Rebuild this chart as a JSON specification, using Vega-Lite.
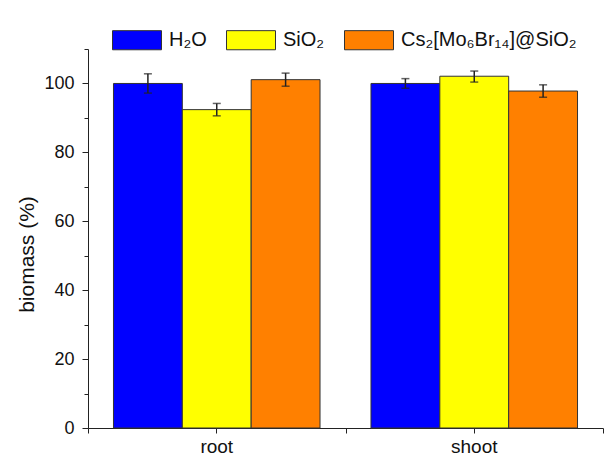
{
  "$schema": "https://vega.github.io/schema/vega-lite/v6.json",
  "width": 515,
  "height": 379,
  "autosize": {"type": "none"},
  "padding": {"left": 88, "top": 49, "right": 2, "bottom": 33},
  "background": "white",
  "config": {
    "view": {"stroke": null},
    "font": "Liberation Sans",
    "axis": {"grid": false, "domainColor": "#222", "tickColor": "#222", "labelColor": "#111", "titleColor": "#111", "labelFont": "Liberation Sans", "titleFont": "Liberation Sans", "titleFontWeight": "normal"}
  },
  "data": {
    "values": [
      {"tissue": "root", "treatment": "H₂O", "biomass": 100.0, "lo": 97.2, "hi": 102.8},
      {"tissue": "root", "treatment": "SiO₂", "biomass": 92.4, "lo": 90.6, "hi": 94.2},
      {"tissue": "root", "treatment": "Cs₂[Mo₆Br₁₄]@SiO₂", "biomass": 101.1, "lo": 99.2, "hi": 103.0},
      {"tissue": "shoot", "treatment": "H₂O", "biomass": 100.0, "lo": 98.6, "hi": 101.4},
      {"tissue": "shoot", "treatment": "SiO₂", "biomass": 102.1, "lo": 100.4, "hi": 103.6},
      {"tissue": "shoot", "treatment": "Cs₂[Mo₆Br₁₄]@SiO₂", "biomass": 97.8, "lo": 96.0, "hi": 99.6}
    ]
  },
  "encoding": {
    "xOffset": {"field": "treatment", "type": "nominal", "sort": ["H₂O", "SiO₂", "Cs₂[Mo₆Br₁₄]@SiO₂"], "scale": {"paddingInner": 0, "paddingOuter": 0.37}}
  },
  "layer": [
    {
      "mark": {"type": "bar", "stroke": "#333", "strokeWidth": 1},
      "encoding": {
        "x": {"field": "tissue", "type": "nominal", "sort": ["root", "shoot"], "scale": {"paddingInner": 0, "paddingOuter": 0},
              "axis": {"orient": "bottom", "title": null, "labels": false, "tickBand": "extent", "tickSize": 5, "domainWidth": 1}},
        "y": {"field": "biomass", "type": "quantitative", "scale": {"domain": [0, 110], "nice": false},
              "axis": {"title": "biomass (%)", "titleFontSize": 21, "titlePadding": 6, "titleY": 205, "labelFontSize": 18, "labelPadding": 8,
                       "values": [0, 10, 20, 30, 40, 50, 60, 70, 80, 90, 100, 110],
                       "labelExpr": "datum.value % 20 === 0 ? datum.label : ''",
                       "tickSize": {"condition": {"test": "datum.value % 20 === 0", "value": 6}, "value": 4}}},
        "color": {"field": "treatment", "type": "nominal", "sort": ["H₂O", "SiO₂", "Cs₂[Mo₆Br₁₄]@SiO₂"],
                  "scale": {"range": ["#0000FF", "#FFFF00", "#FF8000"]},
                  "legend": {"title": null, "orient": "none", "direction": "horizontal", "legendX": 24, "legendY": -34,
                             "symbolType": "M-1,-0.39H1V0.39H-1Z", "symbolSize": 2401, "symbolStrokeColor": "#333", "symbolStrokeWidth": 1,
                             "labelFontSize": 20, "labelOffset": 7, "columnPadding": 17, "labelLimit": 400, "labelColor": "#111", "labelFont": "Liberation Sans"}}
      }
    },
    {
      "mark": {"type": "rule", "color": "#222", "strokeWidth": 1.5},
      "encoding": {
        "x": {"field": "tissue", "type": "nominal", "sort": ["root", "shoot"],
              "axis": {"orient": "bottom", "title": null, "domain": false, "tickSize": 5, "labelFontSize": 19, "labelPadding": 4, "labelAngle": 0}},
        "y": {"field": "lo", "type": "quantitative",
              "axis": {"title": "biomass (%)", "titleFontSize": 21, "titlePadding": 6, "titleY": 205, "labelFontSize": 18, "labelPadding": 8,
                       "values": [0, 10, 20, 30, 40, 50, 60, 70, 80, 90, 100, 110],
                       "labelExpr": "datum.value % 20 === 0 ? datum.label : ''",
                       "tickSize": {"condition": {"test": "datum.value % 20 === 0", "value": 6}, "value": 4}}},
        "y2": {"field": "hi"}
      }
    },
    {
      "mark": {"type": "tick", "color": "#222", "size": 8, "thickness": 1.5, "orient": "horizontal"},
      "encoding": {
        "x": {"field": "tissue", "type": "nominal", "sort": ["root", "shoot"], "axis": null},
        "y": {"field": "lo", "type": "quantitative",
              "axis": {"title": "biomass (%)", "titleFontSize": 21, "titlePadding": 6, "titleY": 205, "labelFontSize": 18, "labelPadding": 8,
                       "values": [0, 10, 20, 30, 40, 50, 60, 70, 80, 90, 100, 110],
                       "labelExpr": "datum.value % 20 === 0 ? datum.label : ''",
                       "tickSize": {"condition": {"test": "datum.value % 20 === 0", "value": 6}, "value": 4}}}
      }
    },
    {
      "mark": {"type": "tick", "color": "#222", "size": 8, "thickness": 1.5, "orient": "horizontal"},
      "encoding": {
        "x": {"field": "tissue", "type": "nominal", "sort": ["root", "shoot"], "axis": null},
        "y": {"field": "hi", "type": "quantitative",
              "axis": {"title": "biomass (%)", "titleFontSize": 21, "titlePadding": 6, "titleY": 205, "labelFontSize": 18, "labelPadding": 8,
                       "values": [0, 10, 20, 30, 40, 50, 60, 70, 80, 90, 100, 110],
                       "labelExpr": "datum.value % 20 === 0 ? datum.label : ''",
                       "tickSize": {"condition": {"test": "datum.value % 20 === 0", "value": 6}, "value": 4}}}
      }
    }
  ],
  "resolve": {"axis": {"x": "independent"}}
}
